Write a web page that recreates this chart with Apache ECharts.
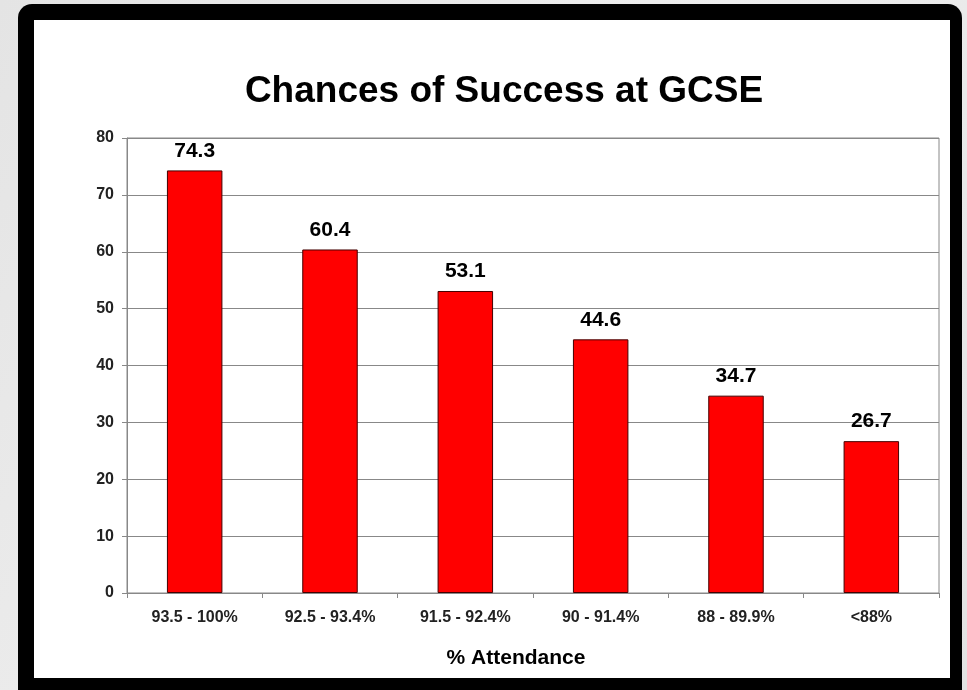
<!DOCTYPE html>
<html>
<head>
<meta charset="utf-8">
<script src="https://cdn.jsdelivr.net/npm/echarts@6/dist/echarts.min.js"></script>
<style>
html,body{margin:0;padding:0;background:#e9e9e9;}
#c{width:967px;height:690px;}
</style>
</head>
<body>
<div id="c"></div>
<script>
const categories = ['93.5 - 100%', '92.5 - 93.4%', '91.5 - 92.4%', '90 - 91.4%', '88 - 89.9%', '<88%'];
const values = [74.3, 60.4, 53.1, 44.6, 34.7, 26.7];
const titleText = 'Chances of Success at GCSE';
const xAxisName = '% Attendance';

const chart = echarts.init(document.getElementById('c'));
const font = '"Liberation Sans", Arial, sans-serif';
chart.setOption({
  backgroundColor: {
    type: 'linear', x: 0, y: 0, x2: 1, y2: 1,
    colorStops: [{offset: 0, color: '#e4e4e4'}, {offset: 0.5, color: '#eeeeee'}, {offset: 1, color: '#e2e2e2'}]
  },
  animation: false,
  graphic: [
    {type: 'rect', z: -10, shape: {x: 18, y: 4, width: 944, height: 700, r: 14}, style: {fill: '#000'}},
    {type: 'rect', z: -9, shape: {x: 34, y: 20, width: 916, height: 658}, style: {fill: '#fff'}}
  ],
  title: {
    text: titleText, left: 499, top: 68, textAlign: 'center',
    textStyle: {fontFamily: font, fontSize: 37, fontWeight: 'bold', color: '#000'}
  },
  grid: {left: 127, right: 28, top: 138, bottom: 97, show: true, borderColor: '#888', borderWidth: 1, backgroundColor: 'transparent'},
  xAxis: {
    type: 'category', data: categories,
    name: xAxisName, nameLocation: 'middle', nameGap: 55,
    nameTextStyle: {fontFamily: font, fontSize: 21, fontWeight: 'bold', color: '#000', padding: [0, 34, 0, 0]},
    axisLine: {lineStyle: {color: '#888'}},
    axisTick: {show: true, alignWithLabel: false, length: 5, lineStyle: {color: '#888'}},
    axisLabel: {fontFamily: font, fontSize: 16, fontWeight: 'bold', color: '#222', margin: 17}
  },
  yAxis: {
    type: 'value', min: 0, max: 80, interval: 10,
    axisLine: {show: true, lineStyle: {color: '#888'}},
    axisTick: {show: true, length: 5, lineStyle: {color: '#888'}},
    axisLabel: {fontFamily: font, fontSize: 16, fontWeight: 'bold', color: '#222', margin: 13},
    splitLine: {show: true, lineStyle: {color: '#888', width: 1}}
  },
  series: [{
    type: 'bar', data: values, barWidth: '41%',
    itemStyle: {color: '#ff0000', borderColor: '#400', borderWidth: 1},
    label: {show: true, position: 'top', distance: 9, fontFamily: font, fontSize: 21, fontWeight: 'bold', color: '#000',
      formatter: p => p.value.toFixed(1)}
  }]
});
</script>
</body>
</html>
